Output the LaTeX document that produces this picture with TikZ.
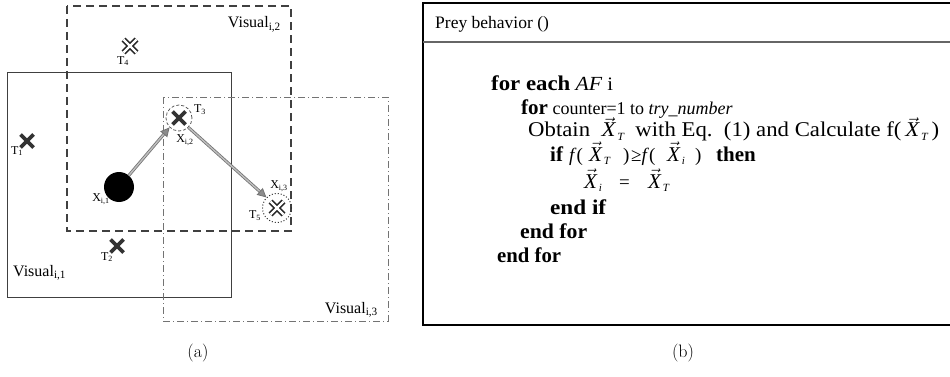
\documentclass[tikz,border=0pt]{standalone}
\usepackage{fontspec}
\newfontfamily\tnr{Liberation Serif}
\usetikzlibrary{arrows.meta}
\newcommand{\VX}[1]{{\fontsize{21}{21}\selectfont$\vec{\mbox{\itshape X}}$}\raisebox{-3.5pt}{\fontsize{11}{11}\selectfont\itshape\,#1}}
\newcommand{\fitw}[2]{\resizebox{#1}{\height}{#2}}
\newcommand{\kw}[1]{\textbf{\fontsize{21}{21}\selectfont #1}}
\newcommand{\pc}[2]{\makebox[#1][l]{#2}}
\tikzset{
  solidbox/.style={draw=black!75, line width=1pt},
  dashbox/.style={draw=black!75, line width=1.7pt, dash pattern=on 8pt off 5pt},
  dotdashbox/.style={draw=black!55, line width=0.9pt, dash pattern=on 7pt off 3pt on 1pt off 3pt},
  solidx/.pic={\draw[line width=3.6pt, black!80] (-6.5,-6.5)--(6.5,6.5) (-6.5,6.5)--(6.5,-6.5);},
  openx/.pic={\draw[line width=5.6pt, black!85] (-6.5,-6.5)--(6.5,6.5) (-6.5,6.5)--(6.5,-6.5);
              \draw[line width=2.4pt, white] (-6.5,-6.5)--(6.5,6.5) (-6.5,6.5)--(6.5,-6.5);},
  tlab/.style={font=\tnr\fontsize{12}{12}\selectfont, inner sep=0pt},
  vlab/.style={font=\tnr\fontsize{16}{16}\selectfont, inner sep=0pt},
  code/.style={font=\tnr\fontsize{19}{20}\selectfont, inner sep=0pt, anchor=base west},
  codeend/.style={font=\tnr\bfseries\fontsize{21}{22}\selectfont, inner sep=0pt, anchor=base west},
  captext/.style={font=\fontsize{18}{18}\selectfont, inner sep=0pt},
  movearrow/.style={draw=black!55, double=black!25, double distance=1.4pt, line width=0.8pt,
     -{Triangle[length=9pt,width=9pt,fill=black!45]}}
}
\begin{document}
\begin{tikzpicture}[x=1pt,y=-1pt]
\useasboundingbox (0,0) rectangle (950,377);
% ---------- panel (a)
\draw[solidbox] (7,73) rectangle (231,297);
\draw[dashbox] (67,6) rectangle (291,231);
\draw[dotdashbox] (163,97) rectangle (388,321);
\node[vlab, anchor=base east] (v2) at (281,28) {Visual\textsubscript{i,2}};
\node[vlab, anchor=base west] (v1) at (13,276) {Visual\textsubscript{i,1}};
\node[vlab, anchor=base east] (v3) at (378,313) {Visual\textsubscript{i,3}};
% crosses
\pic (t1) at (27,141) {solidx};
\pic (t2) at (117,246) {solidx};
\pic (t3) at (179,118) {solidx};
\pic (t4) at (130,46) {openx};
\pic (t5) at (277,208) {openx};
\node[circle, draw=black!70, dash pattern=on 3pt off 2pt, line width=0.7pt, minimum size=26pt, inner sep=0pt] (c3) at (179,118) {};
\node[circle, draw=black!80, dotted, line width=1pt, minimum size=29pt, inner sep=0pt] (c5) at (277,208) {};
\node[tlab] (lt1) at (17,151) {T\textsubscript{1}};
\node[tlab] (lt2) at (107,257) {T\textsubscript{2}};
\node[tlab] (lt3) at (200,110) {T\textsubscript{3}};
\node[tlab] (lt4) at (123,61) {T\textsubscript{4}};
\node[tlab] (lt5) at (255,216) {T\textsubscript{5}};
% dot
\node[circle, fill=black, minimum size=30pt, inner sep=0pt] (dot) at (119,187) {};
\node[tlab] (x1) at (101,199) {X\textsubscript{i,1}};
\node[tlab] (x2) at (185,140) {X\textsubscript{i,2}};
\node[tlab] (x3) at (279,186) {X\textsubscript{i,3}};
% moves
\draw[movearrow] (dot) -- (c3.south west);
\draw[movearrow] (c3.south east) -- (c5.north west);
\node[captext] (capa) at (198,353) {(a)};
% ---------- panel (b)
\draw[line width=1.1pt] (950,3) -- (423,3) -- (423,325) -- (950,325);
\draw[line width=1.3pt, black!60] (423,42) -- (950,42);
\node[code, font=\tnr\fontsize{17.5}{18}\selectfont] (head) at (435,29) {Prey behavior ()};
\node[code] (l1) at (491,91) {\fitw{122pt}{\kw{for each} \textit{\fontsize{20}{20}\selectfont AF} i}};
\node[code, font=\tnr\fontsize{18}{19}\selectfont] (l2) at (521,114) {\kw{for} counter=1 to \textit{try\_number}};
\node[code, font=\tnr\fontsize{21}{22}\selectfont] (l3) at (528,137) {\fitw{411pt}{Obtain \ \VX{T} \ with Eq.\ \ (1) and Calculate f(\,\VX{T}\,)}};
\node[code] (l4) at (550,161) {\pc{19pt}{\kw{if}}\pc{20pt}{\textit{f}(}\pc{34pt}{\VX{T}}\pc{8pt}{)}\pc{36pt}{≥\textit{f}(}\pc{28pt}{\VX{i}}\pc{21pt}{)}\kw{then}};
\node[code] (l5) at (584,188) {\pc{35pt}{\VX{i}}\pc{29pt}{=}\VX{T}};
\node[codeend] (l6) at (550,214) {\fitw{56pt}{end if}};
\node[codeend] (l7) at (520,238) {\fitw{67pt}{end for}};
\node[codeend] (l8) at (497,262) {\fitw{64pt}{end for}};
\node[captext] (capb) at (683,353) {(b)};
\end{tikzpicture}
\end{document}
